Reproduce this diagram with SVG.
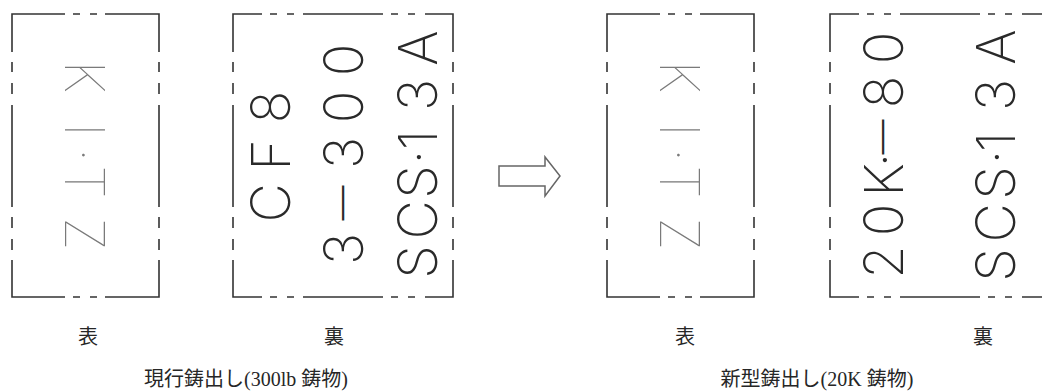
<svg xmlns="http://www.w3.org/2000/svg" width="1042" height="392" viewBox="0 0 1042 392">
<style>
.frame{fill:none;stroke:#333;stroke-width:1.6;stroke-linecap:butt}
.mark{font-family:Inter,Roboto,Lato,"Noto Sans",sans-serif;font-weight:100;font-size:54px;text-anchor:middle}
.light{fill:#7a7a7a}
.dark{fill:#2a2a2a;font-weight:200}
.dash{font-size:35px;font-weight:300}
.lbl{font-family:"Liberation Serif","Noto Sans CJK JP",serif;font-size:20px;fill:#262626;text-anchor:middle}
</style>
<rect width="1042" height="392" fill="#fff"/>
<g id="old-front">
<path class="frame" d="M65 14 H12 V52 M73 14 H80 M90 14 H97 M105 14 H159 V52 M12 62 V72 M12 83 V94 M159 62 V72 M159 83 V94 M12 105 V207 M159 105 V207 M12 217 V228 M12 239 V250 M159 217 V228 M159 239 V250 M12 260 V297 H65 M159 260 V297 H105 M73 297 H80 M90 297 H97"/>
<text class="mark light" transform="translate(65,0) rotate(90)" x="77 130 155 182 234" y="0">KI·TZ</text>
<text class="lbl" x="88" y="344">表</text>
</g>
<g id="old-back">
<path class="frame" d="M262 14 H233 V52 M270 14 H277 M287 14 H294 M303 14 H383 M391 14 H398 M408 14 H415 M425 14 H453 V52 M233 62 V72 M233 83 V94 M453 62 V72 M453 83 V94 M233 105 V207 M453 105 V207 M233 217 V228 M233 239 V250 M453 217 V228 M453 239 V250 M233 260 V297 H262 M453 260 V297 H425 M270 297 H277 M287 297 H294 M303 297 H383 M391 297 H398 M408 297 H415"/>
<text class="mark dark" transform="translate(290,0) rotate(-90)" x="-203 -155 -107" y="0">CF8</text>
<text class="mark dark" transform="translate(363,0) rotate(-90)"><tspan x="-249" y="0">3</tspan><tspan class="dash" x="-203" y="-9">—</tspan><tspan x="-153 -107 -60" y="0">300</tspan></text>
<text class="mark dark" transform="translate(437,0) rotate(-90)" x="-262 -220 -182 -157 -140 -95 -48" y="0">SCS·13A</text>
<text class="lbl" x="334" y="344">裏</text>
</g>
<g id="old-caption">
<text class="lbl" x="246" y="386">現行鋳出し(300lb 鋳物)</text>
</g>
<g id="connectors">
<polygon points="499,166 545,166 545,157 560,176 545,196 545,186 499,186" fill="#fff" stroke="#666" stroke-width="1.5"/>
</g>
<g id="new-front">
<path class="frame" transform="translate(595,0)" d="M65 14 H12 V52 M73 14 H80 M90 14 H97 M105 14 H159 V52 M12 62 V72 M12 83 V94 M159 62 V72 M159 83 V94 M12 105 V207 M159 105 V207 M12 217 V228 M12 239 V250 M159 217 V228 M159 239 V250 M12 260 V297 H65 M159 260 V297 H105 M73 297 H80 M90 297 H97"/>
<text class="mark light" transform="translate(660,0) rotate(90)" x="77 130 155 182 234" y="0">KI·TZ</text>
<text class="lbl" x="685" y="344">表</text>
</g>
<g id="new-back">
<path class="frame" transform="translate(597,0)" d="M262 14 H233 V52 M270 14 H277 M287 14 H294 M303 14 H383 M391 14 H398 M408 14 H415 M425 14 H453 V52 M233 62 V72 M233 83 V94 M453 62 V72 M453 83 V94 M233 105 V207 M453 105 V207 M233 217 V228 M233 239 V250 M453 217 V228 M453 239 V250 M233 260 V297 H262 M453 260 V297 H425 M270 297 H277 M287 297 H294 M303 297 H383 M391 297 H398 M408 297 H415"/>
<text class="mark dark" transform="translate(903,0) rotate(-90)"><tspan x="-262 -220 -180 -160" y="0">20K·</tspan><tspan class="dash" x="-137" y="-9">—</tspan><tspan x="-92 -48" y="0">80</tspan></text>
<text class="mark dark" transform="translate(1015,0) rotate(-90)" x="-265 -223 -183 -157 -142 -95 -47" y="0">SCS·13A</text>
<text class="lbl" x="983" y="344">裏</text>
</g>
<g id="new-caption">
<text class="lbl" x="817" y="386">新型鋳出し(20K 鋳物)</text>
</g>
</svg>
